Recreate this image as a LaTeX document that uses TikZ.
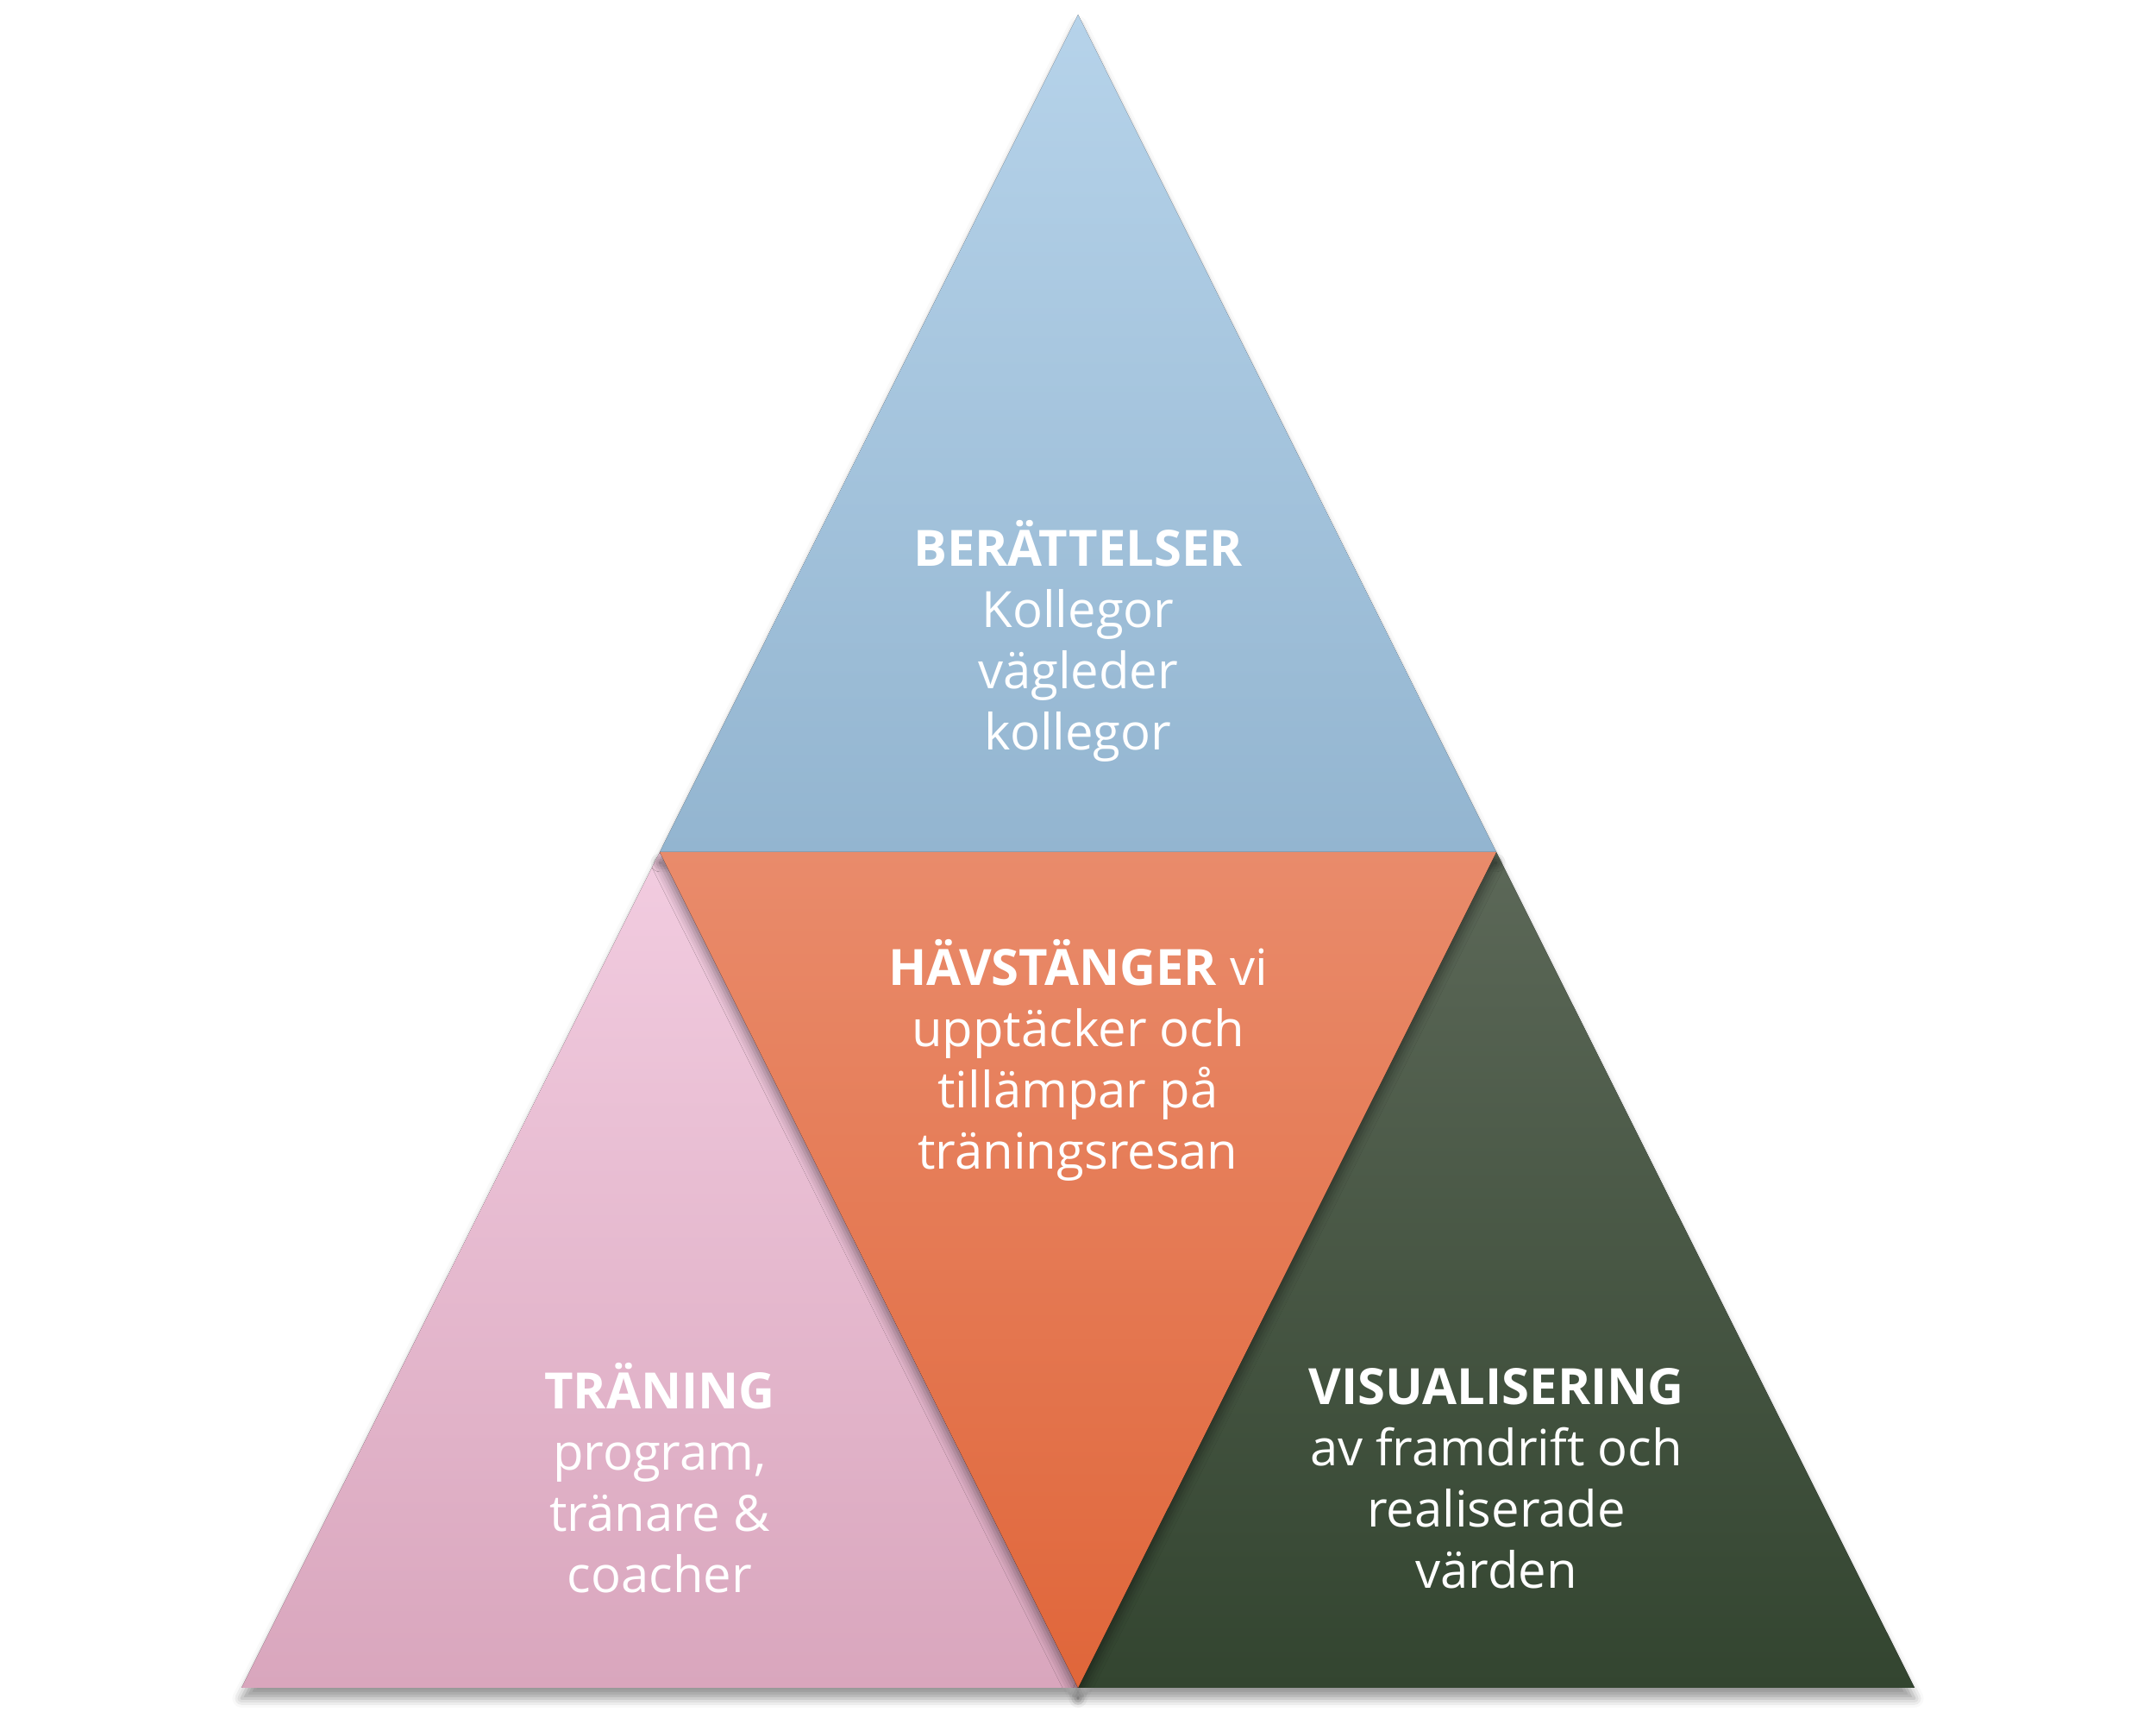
\documentclass[tikz,border=0pt]{standalone}
\usepackage{fontspec}
\setmainfont{Open Sans}
\usetikzlibrary{shadows.blur}

\definecolor{blueTop}{HTML}{B6D3EA}
\definecolor{blueBot}{HTML}{93B5D0}
\definecolor{orangeTop}{HTML}{E98B6B}
\definecolor{orangeBot}{HTML}{E0663A}
\definecolor{pinkTop}{HTML}{F2CCE0}
\definecolor{pinkBot}{HTML}{D9A6BD}
\definecolor{greenTop}{HTML}{5C6858}
\definecolor{greenMid}{HTML}{3E4D3A}
\definecolor{greenBot}{HTML}{334530}

\begin{document}
\begin{tikzpicture}[
  part/.style={blur shadow={shadow xshift=0pt,shadow yshift=-3.5pt,shadow blur radius=3pt,shadow opacity=40}},
  label text/.style={text=white,align=center,font=\fontsize{16.5}{20.2}\selectfont}]
   \useasboundingbox (0,0) rectangle (25,19.92);
   \coordinate (apex) at (12.50,19.75);
   \coordinate (ml) at (7.65,10.04);
   \coordinate (mr) at (17.35,10.04);
   \coordinate (bl) at (2.80,0.35);
   \coordinate (bc) at (12.50,0.35);
   \coordinate (br) at (22.20,0.35);
   % four triangles
   \fill[part,top color=pinkTop,bottom color=pinkBot] (ml) -- (bc) -- (bl) -- cycle;
   \fill[part,top color=greenTop,middle color=greenMid,bottom color=greenBot] (mr) -- (br) -- (bc) -- cycle;
   \fill[part,top color=blueTop,bottom color=blueBot] (apex) -- (mr) -- (ml) -- cycle;
   \fill[part,top color=orangeTop,bottom color=orangeBot] (ml) -- (mr) -- (bc) -- cycle;
   % texts
   \node[label text] (berattelser) at (12.50,12.49) {\textbf{BERÄTTELSER}\\Kollegor\\vägleder\\kollegor};
   \node[label text] (havstanger) at (12.50,7.63) {\textbf{HÄVSTÄNGER} vi\\upptäcker och\\tillämpar på\\träningsresan};
   \node[label text] (traning) at (7.65,2.78) {\textbf{TRÄNING}\\program,\\tränare \&\\coacher};
   \node[label text] (visualisering) at (17.35,2.78) {\textbf{VISUALISERING}\\av framdrift och\\realiserade\\värden};
\end{tikzpicture}
\end{document}
